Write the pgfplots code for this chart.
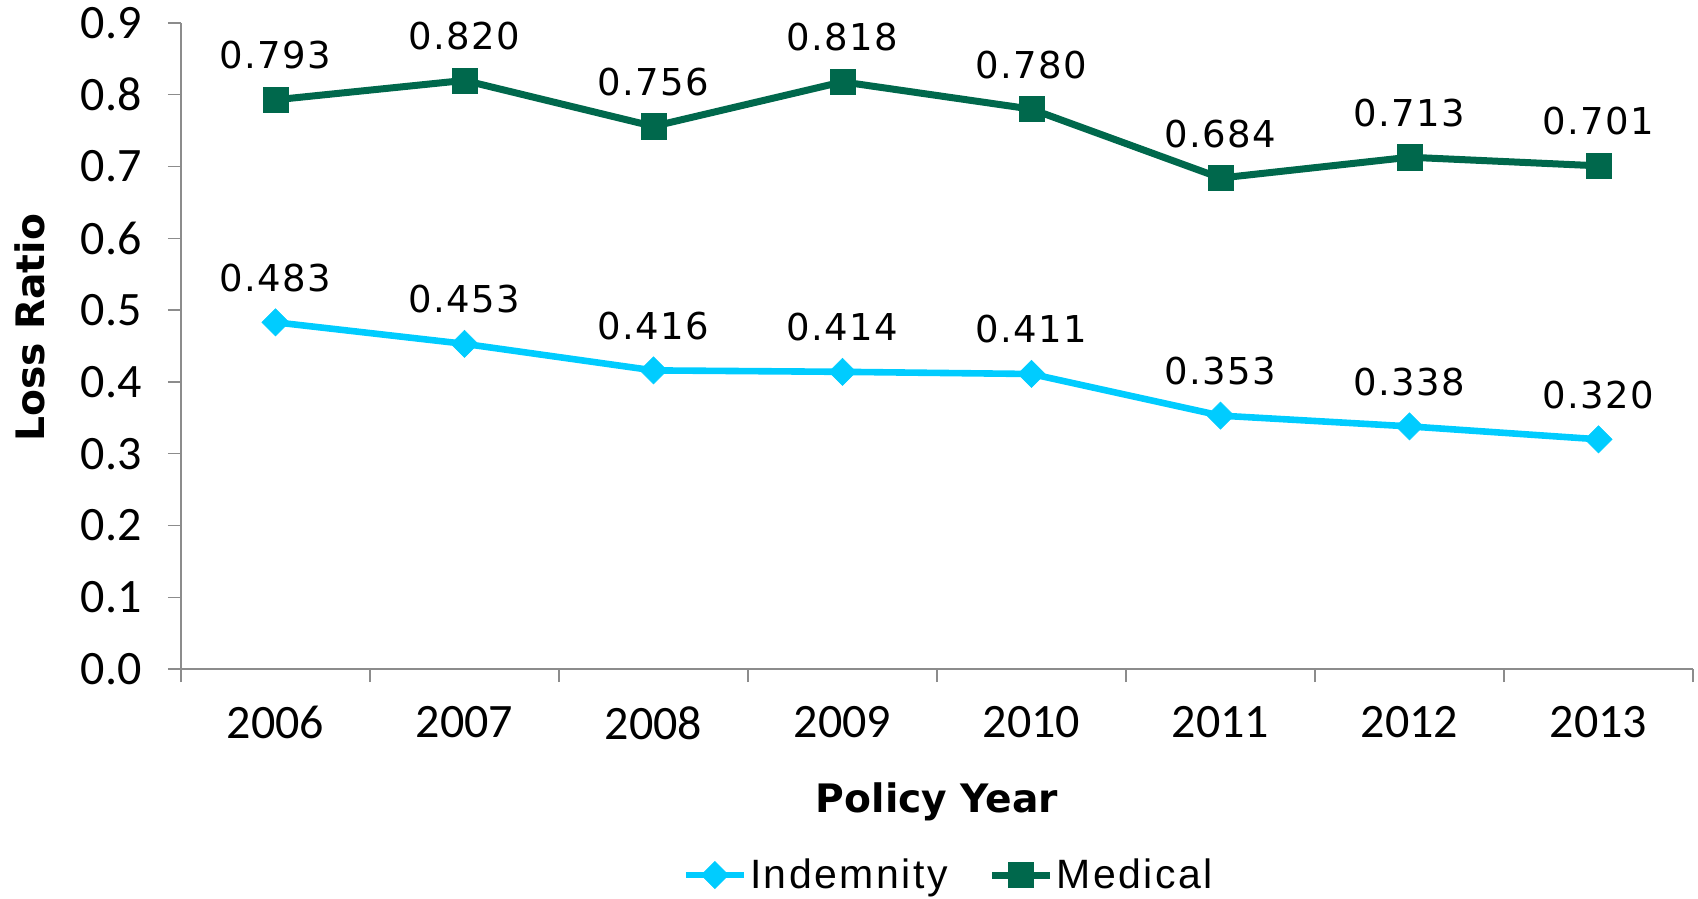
\documentclass[border=0pt]{standalone}
\usepackage{fontspec}
\usepackage{pgfplots}
\pgfplotsset{compat=1.18}
\setmainfont{Liberation Sans}
\newfontfamily\tickfont{Carlito}
\newfontfamily\lblfont[LetterSpace=4]{DejaVu Sans}
\newfontfamily\titlefont{DejaVu Sans}
\newfontfamily\legfont[LetterSpace=6]{Liberation Sans}
\definecolor{medgreen}{RGB}{0,104,76}
\definecolor{indcyan}{RGB}{0,204,255}
\definecolor{axgray}{RGB}{140,140,140}

\begin{document}
\begin{tikzpicture}
\useasboundingbox (-90.5pt,-115pt) rectangle (758.5pt,334.5pt);
\begin{axis}[
  at={(0,0)}, anchor=south west,
  scale only axis,
  width=756pt, height=323pt,
  xmin=-0.5, xmax=7.5,
  ymin=0, ymax=0.9,
  axis x line*=bottom, axis y line*=left,
  axis line style={axgray, line width=0.7pt},
  xtick={0,...,7},
  xticklabels={2006,2007,2008,2009,2010,2011,2012,2013},
  minor xtick={-0.5,0.5,...,7.5},
  major x tick style={draw=none},
  minor x tick style={axgray, line width=0.7pt},
  ytick={0,0.1,0.2,0.3,0.4,0.5,0.6,0.7,0.8,0.9},
  y tick style={axgray, line width=0.7pt},
  tick align=outside,
  major tick length=6.5pt, minor tick length=6.5pt,
  yticklabel={\pgfmathprintnumber[fixed,fixed zerofill,precision=1]{\tick}},
  /pgf/number format/assume math mode=true,
  tick label style={font=\tickfont\fontsize{24}{25}\selectfont},
  xticklabel style={inner sep=0pt, anchor=north, yshift=-12pt},
  yticklabel style={inner sep=0pt, anchor=east, xshift=-13pt},
  xlabel={Policy Year},
  xlabel style={at={(axis description cs:0.5,0)}, anchor=base, yshift=-71.5pt,
    font=\titlefont\bfseries\fontsize{19.6}{20}\selectfont},
  ylabel={Loss Ratio},
  ylabel style={at={(axis description cs:0,0.528)}, anchor=base, yshift=68pt,
    font=\titlefont\bfseries\fontsize{19.6}{20}\selectfont},
  clip=false,
  nodes near coords={\pgfmathprintnumber[fixed,fixed zerofill,precision=3]{\pgfplotspointmeta}},
  every node near coord/.append style={font=\lblfont\fontsize{18.5}{19}\selectfont,
    text=black, anchor=base, inner sep=0pt, yshift=15.5pt},
  legend columns=2,
  legend style={at={(axis description cs:0.508,-0.319)}, anchor=center,
    draw=none, fill=none, font=\legfont\fontsize{20.5}{21}\selectfont,
    inner sep=0pt, /tikz/every even column/.append style={column sep=19pt},
    nodes={inner sep=1.5pt}},
  legend image code/.code={%
    \draw[mark repeat=2,mark phase=2,#1] plot coordinates {(0pt,0pt) (14.5pt,0pt) (29pt,0pt)};},
]
\addplot[indcyan, line width=3.3pt, mark=square*, mark size=4.8pt,
  mark options={rotate=45, line width=0.3pt, fill=indcyan}] coordinates {
  (0,0.483) (1,0.453) (2,0.416) (3,0.414) (4,0.411) (5,0.353) (6,0.338) (7,0.320)
};
\addlegendentry{Indemnity}
\addplot[medgreen, line width=3.5pt, mark=square*, mark size=6.3pt,
  mark options={line width=0.3pt, fill=medgreen}] coordinates {
  (0,0.793) (1,0.820) (2,0.756) (3,0.818) (4,0.780) (5,0.684) (6,0.713) (7,0.701)
};
\addlegendentry{Medical}
\end{axis}
\end{tikzpicture}
\end{document}
